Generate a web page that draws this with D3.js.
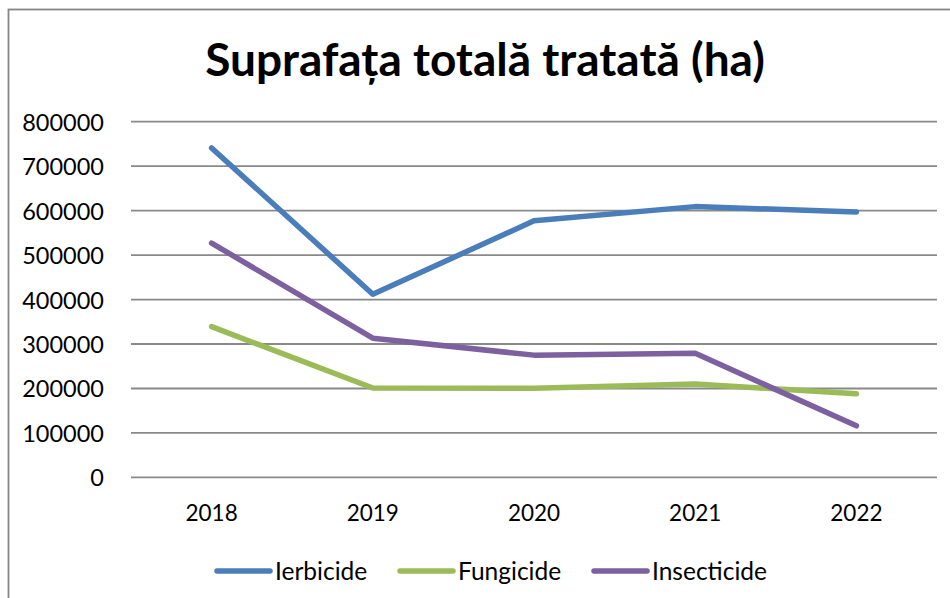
<!DOCTYPE html>
<html>
<head>
<meta charset="utf-8">
<script src="https://cdn.jsdelivr.net/npm/d3@7"></script>
<style>
  html, body { margin: 0; padding: 0; background: #fff; }
  svg { display: block; }
</style>
</head>
<body>
<svg id="chart" width="950" height="598"></svg>
<script>
// Treated area per year, by product group (ha)
const years = ["2018", "2019", "2020", "2021", "2022"];
const ierbicide   = [741000, 412000, 577000, 609000, 597000];
const fungicide   = [339000, 201000, 200500, 210000, 188000];
const insecticide = [527000, 313000, 275000, 279000, 116000];
const yTicks = [0, 100000, 200000, 300000, 400000, 500000, 600000, 700000, 800000];
const seriesNames = ["Ierbicide", "Fungicide", "Insecticide"];
const seriesColors = ["#4a7ebb", "#9bbb59", "#7d60a0"];
const titleText = "Suprafața totală tratată (ha)";

const series = [ierbicide, fungicide, insecticide].map((values, i) => ({
  name: seriesNames[i], color: seriesColors[i],
  points: values.map((v, j) => ({ year: years[j], value: v }))
}));

const svg = d3.select("#chart");
const font = "Lato, 'Open Sans', sans-serif";

// chart frame
svg.append("rect")
  .attr("x", 8.5).attr("y", 9.5).attr("width", 960).attr("height", 620)
  .attr("fill", "#fff").attr("stroke", "#868686").attr("stroke-width", 1.8);

const plot = { left: 131, right: 937, top: 121.7, bottom: 477.4 };

const x = d3.scaleBand().domain(years).range([plot.left, plot.right]);
const y = d3.scaleLinear().domain([0, 800000]).range([plot.bottom, plot.top]);

// horizontal gridlines
svg.append("g").selectAll("line").data(yTicks).join("line")
  .attr("x1", plot.left).attr("x2", plot.right)
  .attr("y1", d => y(d)).attr("y2", d => y(d))
  .attr("stroke", "#898989").attr("stroke-width", 1.8);

// y axis labels
const yAxis = d3.axisLeft(y).tickValues(yTicks).tickSize(0).tickPadding(0)
  .tickFormat(d3.format("d"));
const gy = svg.append("g").attr("transform", `translate(104,0)`).call(yAxis);
gy.select(".domain").remove();
gy.selectAll("text")
  .attr("font-family", font).attr("font-size", 23.5).attr("fill", "#000")
  .attr("dy", "0.36em");

// x axis labels
const xAxis = d3.axisBottom(x).tickSize(0).tickPadding(0);
const gx = svg.append("g").attr("transform", `translate(0,505)`).call(xAxis);
gx.select(".domain").remove();
gx.selectAll("text")
  .attr("font-family", font).attr("font-size", 22.5).attr("fill", "#000")
  .attr("dy", "0.71em");

// series lines
const line = d3.line()
  .x(d => x(d.year) + x.bandwidth() / 2)
  .y(d => y(d.value));

svg.append("g").selectAll("path").data(series).join("path")
  .attr("d", d => line(d.points))
  .attr("fill", "none")
  .attr("stroke", d => d.color)
  .attr("stroke-width", 5.5)
  .attr("stroke-linejoin", "round")
  .attr("stroke-linecap", "round");

// title
svg.append("text")
  .attr("x", 485).attr("y", 76)
  .attr("text-anchor", "middle")
  .attr("font-family", font).attr("font-weight", 700).attr("font-size", 46)
  .attr("fill", "#000")
  .text(titleText);

// legend
const legendX = [217, 400, 594];
const lg = svg.append("g").selectAll("g").data(series).join("g")
  .attr("transform", (d, i) => `translate(${legendX[i]},571)`);
lg.append("line")
  .attr("x1", 0).attr("x2", 53).attr("y1", 0).attr("y2", 0)
  .attr("stroke", d => d.color).attr("stroke-width", 5.5)
  .attr("stroke-linecap", "round");
lg.append("text")
  .attr("x", 58).attr("y", 0).attr("dy", "0.36em")
  .attr("font-family", font).attr("font-size", 24.5).attr("fill", "#000")
  .text(d => d.name);
</script>
</body>
</html>
